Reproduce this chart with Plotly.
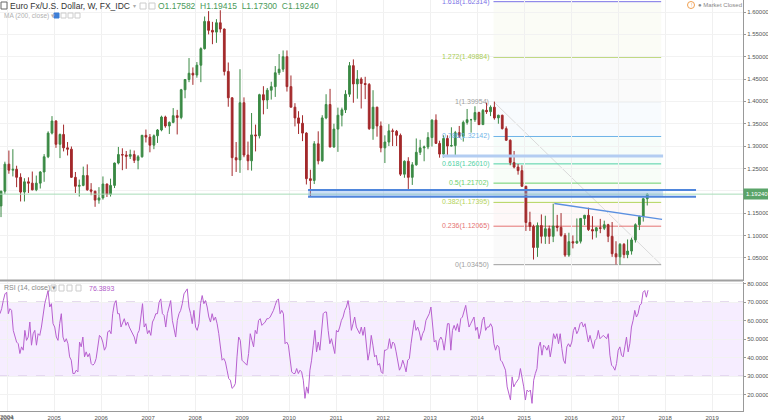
import plotly.graph_objects as go
import pandas as pd

# ---------------- DATA ----------------
MONTHS = [
    "2003-11", "2003-12",
    "2004-01", "2004-02", "2004-03", "2004-04", "2004-05", "2004-06", "2004-07", "2004-08", "2004-09", "2004-10", "2004-11", "2004-12",
    "2005-01", "2005-02", "2005-03", "2005-04", "2005-05", "2005-06", "2005-07", "2005-08", "2005-09", "2005-10", "2005-11", "2005-12",
    "2006-01", "2006-02", "2006-03", "2006-04", "2006-05", "2006-06", "2006-07", "2006-08", "2006-09", "2006-10", "2006-11", "2006-12",
    "2007-01", "2007-02", "2007-03", "2007-04", "2007-05", "2007-06", "2007-07", "2007-08", "2007-09", "2007-10", "2007-11", "2007-12",
    "2008-01", "2008-02", "2008-03", "2008-04", "2008-05", "2008-06", "2008-07", "2008-08", "2008-09", "2008-10", "2008-11", "2008-12",
    "2009-01", "2009-02", "2009-03", "2009-04", "2009-05", "2009-06", "2009-07", "2009-08", "2009-09", "2009-10", "2009-11", "2009-12",
    "2010-01", "2010-02", "2010-03", "2010-04", "2010-05", "2010-06", "2010-07", "2010-08", "2010-09", "2010-10", "2010-11", "2010-12",
    "2011-01", "2011-02", "2011-03", "2011-04", "2011-05", "2011-06", "2011-07", "2011-08", "2011-09", "2011-10", "2011-11", "2011-12",
    "2012-01", "2012-02", "2012-03", "2012-04", "2012-05", "2012-06", "2012-07", "2012-08", "2012-09", "2012-10", "2012-11", "2012-12",
    "2013-01", "2013-02", "2013-03", "2013-04", "2013-05", "2013-06", "2013-07", "2013-08", "2013-09", "2013-10", "2013-11", "2013-12",
    "2014-01", "2014-02", "2014-03", "2014-04", "2014-05", "2014-06", "2014-07", "2014-08", "2014-09", "2014-10", "2014-11", "2014-12",
    "2015-01", "2015-02", "2015-03", "2015-04", "2015-05", "2015-06", "2015-07", "2015-08", "2015-09", "2015-10", "2015-11", "2015-12",
    "2016-01", "2016-02", "2016-03", "2016-04", "2016-05", "2016-06", "2016-07", "2016-08", "2016-09", "2016-10", "2016-11", "2016-12",
    "2017-01", "2017-02", "2017-03", "2017-04", "2017-05", "2017-06", "2017-07", "2017-08",
]
OPEN = [
    1.1660, 1.1990,
    1.2595, 1.2460, 1.2480, 1.2300, 1.1970, 1.2200, 1.2170, 1.2020, 1.2170, 1.2420, 1.2760, 1.3290,
    1.3560, 1.3040, 1.3260, 1.2960, 1.2930, 1.2300, 1.2100, 1.2120, 1.2340, 1.2020, 1.1990, 1.1790,
    1.1840, 1.2150, 1.1920, 1.2120, 1.2620, 1.2810, 1.2800, 1.2770, 1.2810, 1.2680, 1.2760, 1.3240,
    1.3200, 1.3020, 1.3230, 1.3360, 1.3650, 1.3450, 1.3530, 1.3680, 1.3640, 1.4260, 1.4490, 1.4630,
    1.4590, 1.4810, 1.5180, 1.5790, 1.5590, 1.5550, 1.5760, 1.5620, 1.4670, 1.4080, 1.2740, 1.2690,
    1.3970, 1.2800, 1.2670, 1.3250, 1.3230, 1.4150, 1.4030, 1.4250, 1.4330, 1.4640, 1.4720, 1.5000,
    1.4330, 1.3870, 1.3630, 1.3510, 1.3290, 1.2270, 1.2230, 1.3050, 1.2670, 1.3630, 1.3930, 1.2980,
    1.3380, 1.3690, 1.3810, 1.4160, 1.4800, 1.4390, 1.4500, 1.4400, 1.4380, 1.3390, 1.3870, 1.3450,
    1.2960, 1.3090, 1.3340, 1.3330, 1.3240, 1.2370, 1.2660, 1.2300, 1.2580, 1.2860, 1.2960, 1.2980,
    1.3190, 1.3580, 1.3060, 1.2820, 1.3170, 1.3000, 1.3010, 1.3300, 1.3220, 1.3530, 1.3590, 1.3590,
    1.3750, 1.3480, 1.3800, 1.3770, 1.3870, 1.3630, 1.3690, 1.3390, 1.3130, 1.2630, 1.2530, 1.2450,
    1.2100, 1.1290, 1.1200, 1.0730, 1.1220, 1.0980, 1.1150, 1.0980, 1.1210, 1.1180, 1.1000, 1.0560,
    1.0860, 1.0830, 1.0870, 1.1380, 1.1450, 1.1130, 1.1100, 1.1170, 1.1160, 1.1240, 1.0980, 1.0590,
    1.0520, 1.0800, 1.0570, 1.0650, 1.0900, 1.1240, 1.1420, 1.1820,
]
HIGH = [
    1.2000, 1.2650,
    1.2900, 1.2930, 1.2560, 1.2390, 1.2280, 1.2300, 1.2430, 1.2340, 1.2440, 1.2820, 1.3330, 1.3670,
    1.3580, 1.3280, 1.3480, 1.3090, 1.2990, 1.2420, 1.2250, 1.2540, 1.2590, 1.2170, 1.2000, 1.2080,
    1.2320, 1.2160, 1.2270, 1.2630, 1.2980, 1.2950, 1.2890, 1.2920, 1.2900, 1.2800, 1.3250, 1.3370,
    1.3270, 1.3260, 1.3380, 1.3680, 1.3680, 1.3550, 1.3850, 1.3810, 1.4280, 1.4500, 1.4970, 1.4760,
    1.4880, 1.5210, 1.5900, 1.6020, 1.5780, 1.5840, 1.6040, 1.5630, 1.4870, 1.4090, 1.3090, 1.4720,
    1.4090, 1.3100, 1.3740, 1.3480, 1.4170, 1.4340, 1.4300, 1.4440, 1.4790, 1.5060, 1.5140, 1.5140,
    1.4580, 1.3960, 1.3780, 1.3690, 1.3310, 1.2470, 1.3110, 1.3330, 1.3690, 1.4160, 1.4280, 1.3500,
    1.3860, 1.3860, 1.4250, 1.4880, 1.4940, 1.4700, 1.4540, 1.4550, 1.4410, 1.4250, 1.3880, 1.3550,
    1.3240, 1.3490, 1.3390, 1.3360, 1.3280, 1.2680, 1.2750, 1.2640, 1.3170, 1.3140, 1.3010, 1.3310,
    1.3600, 1.3710, 1.3120, 1.3240, 1.3240, 1.3420, 1.3340, 1.3450, 1.3570, 1.3830, 1.3610, 1.3890,
    1.3770, 1.3830, 1.3970, 1.3910, 1.3995, 1.3700, 1.3700, 1.3440, 1.3150, 1.2890, 1.2600, 1.2570,
    1.2110, 1.1530, 1.1240, 1.1290, 1.1470, 1.1440, 1.1220, 1.1710, 1.1460, 1.1500, 1.1050, 1.1060,
    1.1000, 1.1380, 1.1390, 1.1460, 1.1620, 1.1430, 1.1190, 1.1370, 1.1330, 1.1260, 1.1300, 1.0870,
    1.0830, 1.0830, 1.0910, 1.0950, 1.1270, 1.1440, 1.1840, 1.1942,
]
LOW = [
    1.1410, 1.1930,
    1.2380, 1.2320, 1.2080, 1.1760, 1.1760, 1.1950, 1.2010, 1.1990, 1.2050, 1.2200, 1.2730, 1.3260,
    1.2960, 1.2730, 1.2880, 1.2790, 1.2290, 1.1950, 1.1870, 1.2100, 1.2000, 1.1900, 1.1640, 1.1710,
    1.1800, 1.1860, 1.1870, 1.2060, 1.2590, 1.2460, 1.2490, 1.2710, 1.2620, 1.2480, 1.2740, 1.3080,
    1.2860, 1.2930, 1.3070, 1.3330, 1.3410, 1.3270, 1.3510, 1.3260, 1.3600, 1.4070, 1.4430, 1.4370,
    1.4530, 1.4430, 1.5160, 1.5500, 1.5280, 1.5310, 1.5540, 1.4580, 1.3880, 1.2330, 1.2420, 1.2400,
    1.2750, 1.2460, 1.2450, 1.2880, 1.3170, 1.3710, 1.3830, 1.4040, 1.4100, 1.4590, 1.4660, 1.4220,
    1.3870, 1.3440, 1.3270, 1.3110, 1.2140, 1.1880, 1.2150, 1.2590, 1.2650, 1.3600, 1.2970, 1.2960,
    1.2870, 1.3440, 1.3740, 1.4100, 1.3970, 1.4060, 1.3840, 1.4050, 1.3360, 1.3140, 1.3210, 1.2860,
    1.2620, 1.3000, 1.3000, 1.3000, 1.2330, 1.2290, 1.2040, 1.2130, 1.2560, 1.2800, 1.2660, 1.2930,
    1.2990, 1.3050, 1.2740, 1.2740, 1.2800, 1.2990, 1.2760, 1.3180, 1.3100, 1.3480, 1.3300, 1.3540,
    1.3475, 1.3480, 1.3720, 1.3670, 1.3590, 1.3500, 1.3370, 1.3120, 1.2570, 1.2500, 1.2360, 1.2090,
    1.1100, 1.1100, 1.0460, 1.0520, 1.0820, 1.0810, 1.0810, 1.0850, 1.1090, 1.0970, 1.0520, 1.0520,
    1.0710, 1.0810, 1.0820, 1.1230, 1.1100, 1.0910, 1.0950, 1.1050, 1.1120, 1.0850, 1.0520, 1.0350,
    1.0345, 1.0490, 1.0490, 1.0570, 1.0840, 1.1120, 1.1310, 1.1670,
]
CLOSE = [
    1.1990, 1.2595,
    1.2460, 1.2480, 1.2300, 1.1970, 1.2200, 1.2170, 1.2020, 1.2170, 1.2420, 1.2760, 1.3290, 1.3560,
    1.3040, 1.3260, 1.2960, 1.2930, 1.2300, 1.2100, 1.2120, 1.2340, 1.2020, 1.1990, 1.1790, 1.1840,
    1.2150, 1.1920, 1.2120, 1.2620, 1.2810, 1.2800, 1.2770, 1.2810, 1.2680, 1.2760, 1.3240, 1.3200,
    1.3020, 1.3230, 1.3360, 1.3650, 1.3450, 1.3530, 1.3680, 1.3640, 1.4260, 1.4490, 1.4630, 1.4590,
    1.4810, 1.5180, 1.5790, 1.5590, 1.5550, 1.5760, 1.5620, 1.4670, 1.4080, 1.2740, 1.2690, 1.3970,
    1.2800, 1.2670, 1.3250, 1.3230, 1.4150, 1.4030, 1.4250, 1.4330, 1.4640, 1.4720, 1.5000, 1.4330,
    1.3870, 1.3630, 1.3510, 1.3290, 1.2270, 1.2230, 1.3050, 1.2670, 1.3630, 1.3930, 1.2980, 1.3380,
    1.3690, 1.3810, 1.4160, 1.4800, 1.4390, 1.4500, 1.4400, 1.4380, 1.3390, 1.3870, 1.3450, 1.2960,
    1.3090, 1.3340, 1.3330, 1.3240, 1.2370, 1.2660, 1.2300, 1.2580, 1.2860, 1.2960, 1.2980, 1.3190,
    1.3580, 1.3060, 1.2820, 1.3170, 1.3000, 1.3010, 1.3300, 1.3220, 1.3530, 1.3590, 1.3590, 1.3750,
    1.3480, 1.3800, 1.3770, 1.3870, 1.3630, 1.3690, 1.3390, 1.3130, 1.2630, 1.2530, 1.2450, 1.2100,
    1.1290, 1.1200, 1.0730, 1.1220, 1.0980, 1.1150, 1.0980, 1.1210, 1.1180, 1.1000, 1.0560, 1.0860,
    1.0830, 1.0870, 1.1380, 1.1450, 1.1130, 1.1100, 1.1170, 1.1160, 1.1240, 1.0980, 1.0590, 1.0520,
    1.0800, 1.0570, 1.0650, 1.0900, 1.1240, 1.1420, 1.1820, 1.1924,
]

# RSI(14) sampled roughly every two weeks, Nov 2003 .. Aug 2017
RSI_START = "2003-11-07"
RSI_END = "2017-08-21"
RSI = [
    63.7, 66.4, 70.8, 74.4, 75.3, 63.7, 66.4, 65.5, 54.7, 51.1, 48.4, 47.5, 42.2, 45.8, 44.0, 54.7,
    49.3, 51.1, 59.2, 46.7, 52.9, 54.7, 46.7, 52.9, 52.0, 56.5, 63.7, 69.1, 72.6, 76.2, 67.3, 69.1,
    58.3, 56.5, 51.1, 49.3, 58.3, 63.7, 51.1, 48.4, 50.2, 47.5, 40.4, 38.6, 31.4, 31.4, 33.2, 32.3,
    48.4, 45.8, 51.1, 40.4, 43.1, 40.4, 42.2, 36.8, 35.9, 36.8, 39.5, 45.8, 52.0, 51.1, 48.4, 44.0,
    45.8, 53.8, 54.7, 52.9, 63.7, 69.1, 70.8, 63.7, 63.7, 56.5, 58.3, 61.0, 57.4, 59.2, 56.5, 54.7,
    52.0, 51.1, 47.5, 52.9, 54.7, 63.7, 69.1, 56.5, 58.3, 52.9, 54.7, 52.0, 59.2, 61.0, 63.7, 63.7,
    69.9, 71.7, 63.7, 62.8, 56.5, 63.7, 67.3, 70.8, 60.1, 54.7, 51.1, 60.1, 63.7, 65.5, 69.1, 74.4,
    76.2, 77.1, 67.3, 63.7, 58.3, 65.5, 56.5, 54.7, 58.3, 69.1, 73.5, 69.1, 70.8, 67.3, 61.9, 59.2,
    63.7, 60.1, 61.9, 58.3, 52.9, 45.8, 38.6, 39.5, 37.7, 33.2, 28.7, 27.8, 23.4, 24.2, 26.0, 40.4,
    51.1, 49.3, 38.6, 37.7, 36.8, 35.9, 42.2, 52.9, 49.3, 45.8,
    54.7, 52.9, 60.1, 61.0, 57.4, 58.3, 59.2, 61.0, 61.0, 61.9, 63.7, 65.5, 68.2, 70.8, 71.7, 63.7,
    65.5, 63.7, 47.5, 48.4, 46.7, 38.6, 32.3, 31.4, 31.4, 34.1, 31.4, 33.2, 32.3, 27.8, 18.0, 24.2,
    20.7, 33.2, 38.6, 46.7, 54.7, 43.1, 48.4, 44.0, 54.7, 63.7, 64.6, 64.6, 54.7, 47.5, 50.2, 46.7,
    42.2, 54.7, 53.8, 56.5, 60.1, 61.9, 65.5, 67.3, 70.8, 65.5, 54.7, 58.3, 61.9, 56.5, 54.7, 52.9,
    56.5, 52.0, 56.5, 45.8, 38.6, 43.1, 52.0, 46.7, 40.4, 41.3, 35.9, 36.8, 32.3, 31.4, 44.0, 44.0,
    44.9, 50.2, 44.9, 48.4, 47.5, 43.1, 38.6, 33.2, 35.0, 38.6, 35.9, 32.3, 38.6, 39.5, 47.5, 55.6,
    60.1, 54.7, 56.5, 53.8, 49.3, 52.9, 54.7, 60.1, 61.9, 63.7, 67.3, 58.3, 48.4, 49.3, 44.0, 49.3,
    51.1, 49.3, 44.0, 51.1, 58.3, 58.3, 44.0, 54.7, 57.4, 54.7, 58.3, 53.8, 61.0, 61.9, 65.5, 68.2,
    61.9, 56.5, 58.3, 60.1, 61.9, 54.7, 56.5, 50.2, 53.8, 60.1, 61.9, 54.7, 56.5, 56.5, 58.3, 56.5,
    47.5, 44.0, 46.7, 45.8, 38.6, 37.7, 35.9, 33.2, 24.2, 20.7,
    17.1, 29.6, 24.2, 26.0, 27.8, 28.7, 34.1, 29.6, 24.2, 17.1, 22.5, 21.6, 22.5, 15.3, 27.8, 31.4,
    34.1, 45.8, 48.4, 41.3, 46.7, 45.8, 44.0, 46.7, 40.4, 45.8, 52.9, 50.2, 52.9, 47.5, 52.9, 44.9,
    38.6, 36.8, 45.8, 47.5, 45.8, 48.4, 54.7, 56.5, 52.9, 54.7, 58.3, 59.2, 56.5, 58.3, 53.8, 48.4,
    52.0, 47.5, 44.9, 49.3, 50.2, 54.7, 50.2, 51.1, 52.0, 51.1, 50.2, 52.9, 41.3, 35.9, 35.0, 33.2,
    36.8, 44.0, 45.8, 41.3, 40.4, 45.8, 51.1, 43.1, 47.5, 56.5, 60.1, 65.5, 61.9, 63.7, 68.2, 69.1,
    75.3, 76.2, 72.6, 76.3893,
]

PRICE_TICKS = [1.05, 1.10, 1.15, 1.20, 1.25, 1.30, 1.35, 1.40, 1.45, 1.50, 1.55, 1.60]
PRICE_TICK_HIDDEN = [1.20]          # covered by the last-price label
RSI_TICKS = [20, 30, 40, 50, 60, 70, 80]
YEAR_LABELS = ["2004"]              # first year label drawn by hand (edge of plot)

FIB_RATIOS = ["1.618", "1.272", "1", "0.786", "0.618", "0.5", "0.382", "0.236", "0"]
FIB_PRICES = [1.62314, 1.49884, 1.39954, 1.32142, 1.26010, 1.21702, 1.17395, 1.12065, 1.03450]
FIB_COLORS = ["#7a72e6", "#a9cc55", "#9e9e9e", "#6fb4e8", "#4fd1a5", "#6ccf6c", "#b3d35a", "#e57373", "#9e9e9e"]
FIB_START = "2014-05-08"
FIB_END = "2017-12-01"

ZONE_X0, ZONE_X1, ZONE_LINE_END = "2010-05-28", "2017-12-16", "2018-08-29"
ZONE_TOP, ZONE_BOTTOM = 1.2018, 1.1866
RES_LEVEL, RES_X0, RES_X1 = 1.2775, "2013-04-05", "2017-12-16"
TREND_X = ["2015-08-24", "2017-12-08"]
TREND_Y = [1.1714, 1.1359]
LAST_PRICE = 1.19240

X_RANGE = ["2003-11-07", "2019-08-29"]
PRICE_RANGE = [0.9991, 1.6269]
RSI_RANGE = [11.18, 81.08]

# ---------------- FIGURE ----------------
W, H = 768, 420
ML, MR, MT, MB = 0, 25, 0, 9
PW, PH = W - ML - MR, H - MT - MB
SPLIT = 280.5  # pixel y of pane separator


def px(x):
    return x / PW


def py(y):
    return (PH - y) / PH


FONT = "Liberation Sans, Arial, sans-serif"
dates = [m + "-15" for m in MONTHS]
rsi_dates = pd.date_range(RSI_START, RSI_END, periods=len(RSI))

fig = go.Figure()


def hline_trace(x0, x1, y, color, width, axes=("x", "y"), dash="solid"):
    fig.add_trace(go.Scatter(x=[x0, x1], y=[y, y], mode="lines", xaxis=axes[0], yaxis=axes[1],
                             line=dict(color=color, width=width, dash=dash),
                             showlegend=False, hoverinfo="skip"))


# Fib zone fills (very faint)
for i in range(len(FIB_PRICES) - 1):
    fig.add_shape(type="rect", xref="x", yref="y", x0=FIB_START, x1=FIB_END,
                  y0=FIB_PRICES[i + 1], y1=FIB_PRICES[i], fillcolor=FIB_COLORS[i + 1],
                  opacity=0.05, line_width=0, layer="below")

# RSI band
fig.add_shape(type="rect", xref="x2", yref="y2", x0=X_RANGE[0], x1=X_RANGE[1], y0=30, y1=70,
              fillcolor="rgba(170,90,255,0.11)", line_width=0, layer="below")
for lv in (30, 70):
    fig.add_shape(type="line", xref="x2", yref="y2", x0=X_RANGE[0], x1=X_RANGE[1], y0=lv, y1=lv,
                  line=dict(color="#c9b3d9", width=1, dash="dash"), layer="below")

# fib diagonal
fig.add_shape(type="line", xref="x", yref="y", x0=FIB_START, x1=FIB_END,
              y0=FIB_PRICES[2], y1=FIB_PRICES[-1], line=dict(color="#dadada", width=1), layer="below")

# fib levels + labels
for r, p, c in zip(FIB_RATIOS, FIB_PRICES, FIB_COLORS):
    fig.add_shape(type="line", xref="x", yref="y", x0=FIB_START, x1=FIB_END, y0=p, y1=p,
                  line=dict(color=c, width=1), layer="below")
    fig.add_annotation(xref="x", yref="y", x=FIB_START, y=p, text=f"{r}({p:.5f})",
                       xanchor="right", yanchor="middle", xshift=-2, showarrow=False,
                       font=dict(family=FONT, size=7, color=c))

# last price line
hline_trace(X_RANGE[0], X_RANGE[1], LAST_PRICE, "#a8dcb8", 1)

# blue support zone (filled trace + border lines)
fig.add_trace(go.Scatter(x=[ZONE_X0, ZONE_X1, ZONE_X1, ZONE_X0, ZONE_X0],
                         y=[ZONE_BOTTOM, ZONE_BOTTOM, ZONE_TOP, ZONE_TOP, ZONE_BOTTOM],
                         mode="lines", fill="toself", fillcolor="rgba(120,170,235,0.38)",
                         line=dict(width=0, color="rgba(0,0,0,0)"), xaxis="x", yaxis="y",
                         showlegend=False, hoverinfo="skip"))
hline_trace(ZONE_X0, ZONE_LINE_END, ZONE_TOP, "#4f86dc", 2)
hline_trace(ZONE_X0, ZONE_LINE_END, ZONE_BOTTOM, "#4f86dc", 2)

# resistance line
hline_trace(RES_X0, RES_X1, RES_LEVEL, "#b3cdf2", 3)

# candles
fig.add_trace(go.Candlestick(
    x=dates, open=OPEN, high=HIGH, low=LOW, close=CLOSE, xaxis="x", yaxis="y",
    increasing=dict(line=dict(color="#3b8a45", width=1), fillcolor="#3b8a45"),
    decreasing=dict(line=dict(color="#a3292b", width=1), fillcolor="#a3292b"),
    whiskerwidth=0, showlegend=False, hoverinfo="skip"))

# descending trend line (on top of candles)
fig.add_trace(go.Scatter(x=TREND_X, y=TREND_Y, mode="lines", xaxis="x", yaxis="y",
                         line=dict(color="#5b8fe0", width=1.5), showlegend=False, hoverinfo="skip"))

# RSI
fig.add_trace(go.Scatter(x=rsi_dates, y=RSI, mode="lines", xaxis="x2", yaxis="y2",
                         line=dict(color="#b760cf", width=1), showlegend=False, hoverinfo="skip"))

axis_font = dict(family=FONT, size=6, color="#555")
fig.update_layout(
    width=W, height=H, margin=dict(l=ML, r=MR, t=MT, b=MB),
    paper_bgcolor="white", plot_bgcolor="white", showlegend=False,
    xaxis=dict(type="date", range=X_RANGE, anchor="y", matches="x2", showticklabels=False,
               dtick="M12", tick0="2004-01-01", gridcolor="#f0f0f0", showgrid=True,
               zeroline=False, rangeslider=dict(visible=False), showline=False),
    xaxis2=dict(type="date", range=X_RANGE, anchor="y2", dtick="M12", tick0="2004-01-01",
                tickformat="%Y", gridcolor="#f0f0f0", showgrid=True, zeroline=False,
                showline=True, linecolor="#999", linewidth=1, ticks="", tickfont=axis_font,
                ticklabelstandoff=1, rangeslider=dict(visible=False)),
    yaxis=dict(domain=[py(SPLIT), 1], range=PRICE_RANGE, side="right", anchor="x",
               tickvals=PRICE_TICKS,
               ticktext=["" if t in PRICE_TICK_HIDDEN else f"{t:.5f}" for t in PRICE_TICKS],
               tickfont=axis_font, gridcolor="#f2f2f2", zeroline=False,
               showline=True, linecolor="#999", linewidth=1, ticks="outside", ticklen=2,
               tickcolor="#999", ticklabelstandoff=0, automargin=False),
    yaxis2=dict(domain=[0, py(SPLIT + 1)], range=RSI_RANGE, side="right", anchor="x2",
                tickvals=RSI_TICKS, ticktext=[f"{t:.4f}" for t in RSI_TICKS],
                tickfont=axis_font, gridcolor="#f2f2f2", zeroline=False,
                showline=True, linecolor="#999", linewidth=1, ticks="outside", ticklen=2,
                tickcolor="#999", ticklabelstandoff=0, automargin=False),
)

# pane separator
fig.add_shape(type="line", xref="paper", yref="paper", x0=0, x1=1, y0=py(SPLIT), y1=py(SPLIT),
              line=dict(color="#a0a0a0", width=2))

# first year label (sits at the left edge, so plotly would drop it)
for yl in YEAR_LABELS:
    fig.add_annotation(xref="x2", yref="paper", x=f"{yl}-01-01", y=0, yshift=-1, text=yl,
                       xanchor="center", yanchor="top", showarrow=False, font=axis_font)

# last price label
fig.add_annotation(xref="paper", yref="y", x=1, y=LAST_PRICE, text="1.19240", xanchor="left",
                   yanchor="middle", showarrow=False, bgcolor="#5aa469", borderpad=2,
                   font=dict(family=FONT, size=6, color="white"))


def txt(x, y, s, size, color, anchor="left"):
    fig.add_annotation(xref="paper", yref="paper", x=px(x), y=py(y), text=s, xanchor=anchor,
                       yanchor="middle", showarrow=False, font=dict(family=FONT, size=size, color=color))


def box(x0, y0, x1, y1, color, fill=None):
    fig.add_shape(type="rect", xref="paper", yref="paper", x0=px(x0), x1=px(x1), y0=py(y1), y1=py(y0),
                  line=dict(color=color, width=1), fillcolor=fill or "rgba(0,0,0,0)")


# header
box(1, 2, 7, 9, "#666")
txt(8, 6, "Euro Fx/U.S. Dollar, W, FX_IDC", 8.5, "#333")
txt(131, 6, "▾", 6, "#aaa")
box(140, 3, 146, 9, "#ccc")
box(149, 3, 155, 9, "#ccc")
txt(156, 6, "O1.17582  H1.19415  L1.17300  C1.19240", 8.5, "#4a9a5a")
txt(2, 16, "MA (200, close) ▾", 6.5, "#b0b0b0")
box(54, 13, 59, 18, "#3d7fd6", "#3d7fd6")
box(61, 13, 66, 18, "#ccc")
box(68, 13, 73, 18, "#ccc")
box(75, 13, 80, 18, "#ccc")

# RSI header
txt(2, 288, "RSI (14, close) ▾", 7, "#888")
box(51, 285, 56, 291, "#ccc")
box(59, 285, 64, 291, "#ccc")
box(67, 285, 72, 291, "#ccc")
box(76, 285, 81, 291, "#ccc")
txt(87, 288, "76.3893", 7, "#b05cc8")

# market closed
fig.add_shape(type="circle", xref="paper", yref="paper", x0=px(687.5), x1=px(694.5), y0=py(8.5), y1=py(1.5),
              line=dict(color="#f0a050", width=1))
txt(691, 5, "!", 5, "#f0a050", "center")
txt(696, 5, "● Market Closed", 6, "#888")

fig.write_html("out.html")
